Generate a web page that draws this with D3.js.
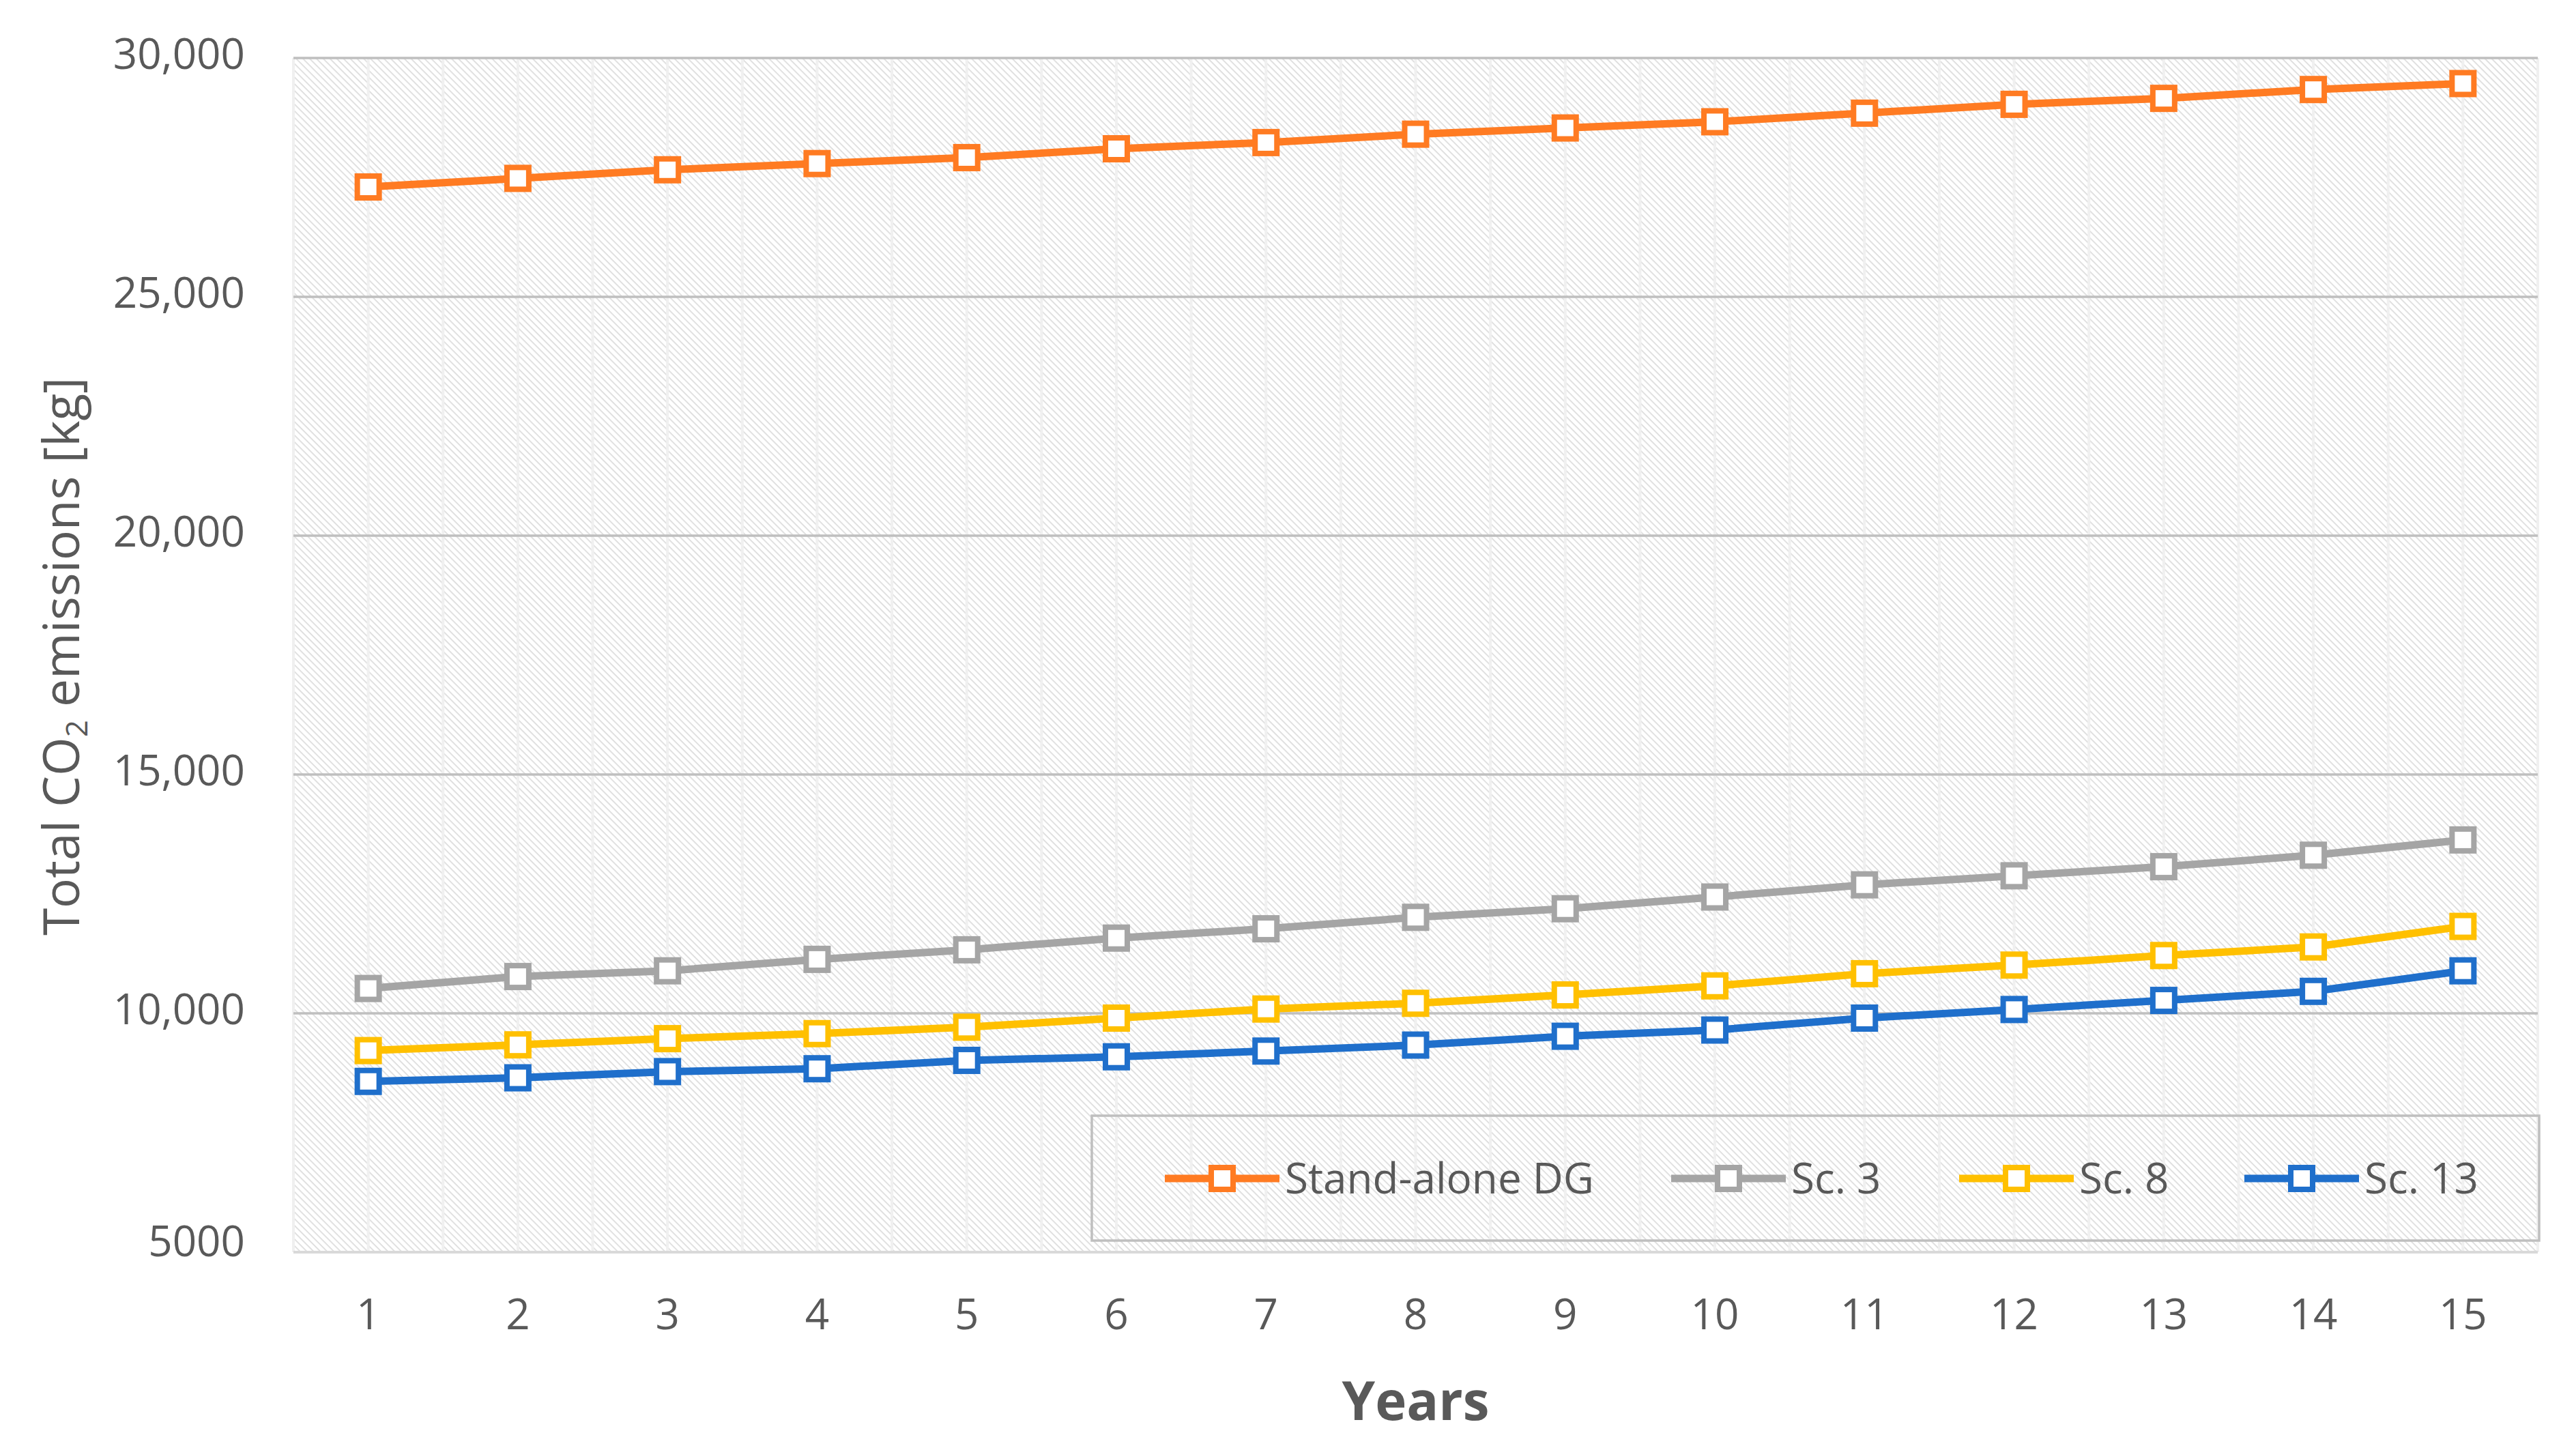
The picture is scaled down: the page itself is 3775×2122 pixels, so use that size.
<!DOCTYPE html>
<html>
<head>
<meta charset="utf-8">
<script src="https://cdn.jsdelivr.net/npm/d3@7"></script>
<style>
  html, body { margin: 0; padding: 0; background: #fff; }
  svg { display: block; }
  text { font-family: "Open Sans", "Noto Sans", sans-serif; fill: #595959; }
</style>
</head>
<body>
<svg id="chart" width="3775" height="2122"></svg>
<script>
// ---- data ----
const years = [1, 2, 3, 4, 5, 6, 7, 8, 9, 10, 11, 12, 13, 14, 15];
const standAloneDG = [27300, 27480, 27660, 27790, 27915, 28100, 28230, 28405, 28535, 28665, 28845, 29030, 29155, 29340, 29465];
const sc3  = [10520, 10770, 10890, 11130, 11330, 11575, 11770, 12010, 12190, 12435, 12690, 12880, 13070, 13310, 13630];
const sc8  = [9220, 9340, 9470, 9575, 9710, 9900, 10090, 10210, 10385, 10575, 10830, 11010, 11210, 11390, 11820];
const sc13 = [8575, 8650, 8780, 8840, 9015, 9090, 9210, 9335, 9520, 9650, 9900, 10080, 10270, 10460, 10890];
const seriesNames = ["Stand-alone DG", "Sc. 3", "Sc. 8", "Sc. 13"];
const seriesColors = ["#FF7B22", "#A5A5A5", "#FFC000", "#1F6FCB"];
const yTicks = [5000, 10000, 15000, 20000, 25000, 30000];
const yTickLabels = ["5000", "10,000", "15,000", "20,000", "25,000", "30,000"];
const xTitle = "Years";

const series = [standAloneDG, sc3, sc8, sc13].map((vals, i) => ({
  name: seriesNames[i], color: seriesColors[i],
  points: years.map((y, j) => ({ year: y, value: vals[j] }))
}));

// ---- layout ----
const svg = d3.select("#chart");
const L = 430, R = 3719, T = 85, B = 1835;

const x = d3.scaleBand().domain(years).range([L, R]).paddingInner(0).paddingOuter(0);
const y = d3.scaleLinear().domain([5000, 30000]).range([B, T]);
const cx = d => x(d) + x.bandwidth() / 2;

// hatch pattern
const defs = svg.append("defs");
const pat = defs.append("pattern")
  .attr("id", "hatch").attr("patternUnits", "userSpaceOnUse")
  .attr("width", 7).attr("height", 7)
  .attr("patternTransform", "rotate(-45)");
pat.append("rect").attr("width", 7).attr("height", 7).attr("fill", "#ffffff");
pat.append("line").attr("x1", 1.2).attr("y1", 0).attr("x2", 1.2).attr("y2", 7)
  .attr("stroke", "#dadada").attr("stroke-width", 1.6);

svg.append("rect").attr("x", L).attr("y", T).attr("width", R - L).attr("height", B - T)
  .attr("fill", "url(#hatch)");

// vertical gridlines (centres and boundaries)
const vLines = [];
years.forEach(d => { vLines.push(x(d)); vLines.push(cx(d)); });
vLines.push(R);
svg.append("g").selectAll("line").data(vLines).join("line")
  .attr("x1", d => d).attr("x2", d => d).attr("y1", T).attr("y2", B)
  .attr("stroke", "#f0f0f0").attr("stroke-width", 4);

// horizontal gridlines
svg.append("g").selectAll("line").data(yTicks.filter(t => t > 5000)).join("line")
  .attr("x1", L).attr("x2", R).attr("y1", d => y(d)).attr("y2", d => y(d))
  .attr("stroke", "#bfbfbf").attr("stroke-width", 3.5);

// bottom axis line
svg.append("line").attr("x1", L).attr("x2", R).attr("y1", B).attr("y2", B)
  .attr("stroke", "#d9d9d9").attr("stroke-width", 4);

// y axis tick labels
const yAxis = d3.axisLeft(y).tickValues(yTicks)
  .tickFormat((d, i) => yTickLabels[i]).tickSize(0).tickPadding(0);
const gy = svg.append("g").attr("transform", `translate(359,0)`).call(yAxis);
gy.select(".domain").remove();
gy.selectAll("text").attr("font-size", 62).attr("fill", "#595959")
  .style("font-family", '"Open Sans", sans-serif')
  .attr("dy", "0.32em").attr("y", d => d === 5000 ? -14 : -4);

// x axis tick labels
const xAxis = d3.axisBottom(x).tickSize(0).tickPadding(0);
const gx = svg.append("g").attr("transform", `translate(0,1948)`).call(xAxis);
gx.select(".domain").remove();
gx.selectAll("text").attr("font-size", 62).attr("fill", "#595959")
  .style("font-family", '"Open Sans", sans-serif').attr("dy", 0).attr("y", 0);

// axis titles
svg.append("text").attr("x", (L + R) / 2).attr("y", 2081)
  .attr("text-anchor", "middle").attr("font-size", 78).attr("font-weight", "bold")
  .text(xTitle);

const yt = svg.append("text")
  .attr("transform", `translate(116,962) rotate(-90)`)
  .attr("text-anchor", "middle").attr("font-size", 73);
yt.append("tspan").text("Total CO");
yt.append("tspan").attr("font-size", 44).attr("dy", 12).text("2");
yt.append("tspan").attr("dy", -12).text(" emissions [kg]");

// lines & markers
const line = d3.line().x(d => cx(d.year)).y(d => y(d.value));
const gs = svg.append("g").selectAll("g").data(series).join("g");
gs.append("path").attr("d", d => line(d.points)).attr("fill", "none")
  .attr("stroke", d => d.color).attr("stroke-width", 11).attr("stroke-linejoin", "round");
gs.each(function (s) {
  d3.select(this).selectAll("rect").data(s.points).join("rect")
    .attr("x", d => cx(d.year) - 16).attr("y", d => y(d.value) - 16)
    .attr("width", 32).attr("height", 32)
    .attr("fill", "#ffffff").attr("stroke", s.color).attr("stroke-width", 8);
});

// legend
const lg = svg.append("g");
lg.append("rect").attr("x", 1600).attr("y", 1635).attr("width", 3721 - 1600).attr("height", 1818 - 1635)
  .attr("fill", "none").attr("stroke", "#bfbfbf").attr("stroke-width", 3.5);
const legendMarkerX = [1791, 2533, 2955, 3373];
const legendY = 1727;
series.forEach((s, i) => {
  const mx = legendMarkerX[i];
  lg.append("line").attr("x1", mx - 84).attr("x2", mx + 84).attr("y1", legendY).attr("y2", legendY)
    .attr("stroke", s.color).attr("stroke-width", 11);
  lg.append("rect").attr("x", mx - 16).attr("y", legendY - 16).attr("width", 32).attr("height", 32)
    .attr("fill", "#fff").attr("stroke", s.color).attr("stroke-width", 8);
  lg.append("text").attr("x", mx + 92).attr("y", legendY).attr("dy", "0.36em")
    .attr("font-size", 62).text(s.name);
});
</script>
</body>
</html>
